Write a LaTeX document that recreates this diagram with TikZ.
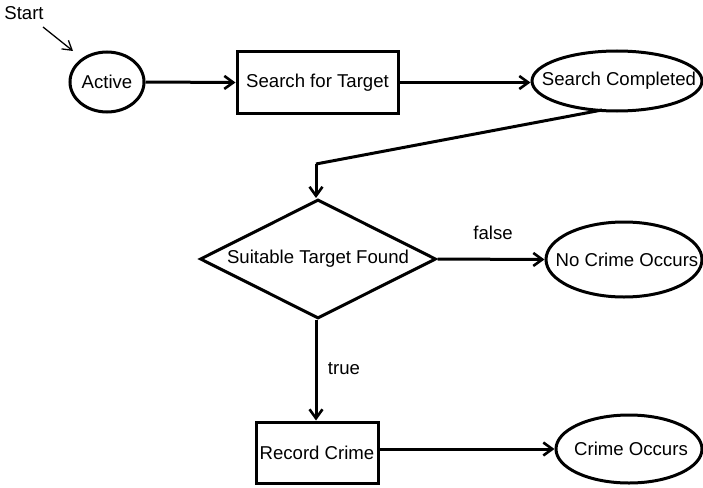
\documentclass[tikz,border=0pt]{standalone}
\usepackage{fontspec}
\setmainfont{Liberation Sans}
\usetikzlibrary{shapes.geometric,arrows.meta}
\begin{document}
\begin{tikzpicture}[x=1pt,y=-1pt,
  font=\fontsize{18.6}{20}\selectfont,
  shp/.style={draw=black,line width=3pt,inner sep=0pt},
  ell/.style={shp,ellipse},
  boxn/.style={shp,rectangle},
  dia/.style={shp,diamond},
  arr/.style={line width=3pt,-{Straight Barb[length=9pt,width=13pt,line width=2.6pt]}},
  thinarr/.style={line width=1.3pt,-{Straight Barb[length=9pt,width=11pt,line width=1.3pt]}}]
\useasboundingbox (0,0) rectangle (703,487);
\node (start) at (24,13) {Start};
\coordinate (sa) at (43,27);
\coordinate (sb) at (73,51);
\node[ell,minimum width=74pt,minimum height=60pt] (act) at (107,82) {};
\node (actT) at (act.center) {Active};
\node[boxn,minimum width=161pt,minimum height=61pt] (sft) at (317.5,82.5) {Search for Target};
\node[ell,minimum width=170pt,minimum height=60pt] (sc) at (617,81) {};
\node (scT) at (619,81) {Search Completed};
\node[dia,minimum width=236pt,minimum height=119pt] (stf) at (318,259) {};
\node (stfT) at (stf.center) {Suitable Target Found};
\node[ell,minimum width=156pt,minimum height=75pt] (nco) at (624,259.5) {};
\node (ncoT) at (627,259.5) {No Crime Occurs};
\node[boxn,minimum width=122pt,minimum height=61pt] (rc) at (317,452.5) {Record Crime};
\node[ell,minimum width=146pt,minimum height=68pt] (co) at (629,449) {};
\node (coT) at (631,449) {Crime Occurs};
\node (lf) at (493,233) {false};
\node (lt) at (344,369) {true};
\coordinate (bend) at (316,164);
\coordinate (scb) at (602,110);
\draw[thinarr] (sa) -- (sb);
\draw[arr] (act.east) -- (sft.west);
\draw[arr] (sft.east) -- (sft.east -| sc.west);
\draw[line width=3pt] (scb) -- (bend);
\draw[arr] (bend) -- (bend |- stf.north);
\draw[arr] (stf.east) -- (nco.west);
\draw[arr] (stf.south -| bend) -- (bend |- rc.north);
\draw[arr] (rc.east |- co.west) -- (co.west);
\end{tikzpicture}
\end{document}
